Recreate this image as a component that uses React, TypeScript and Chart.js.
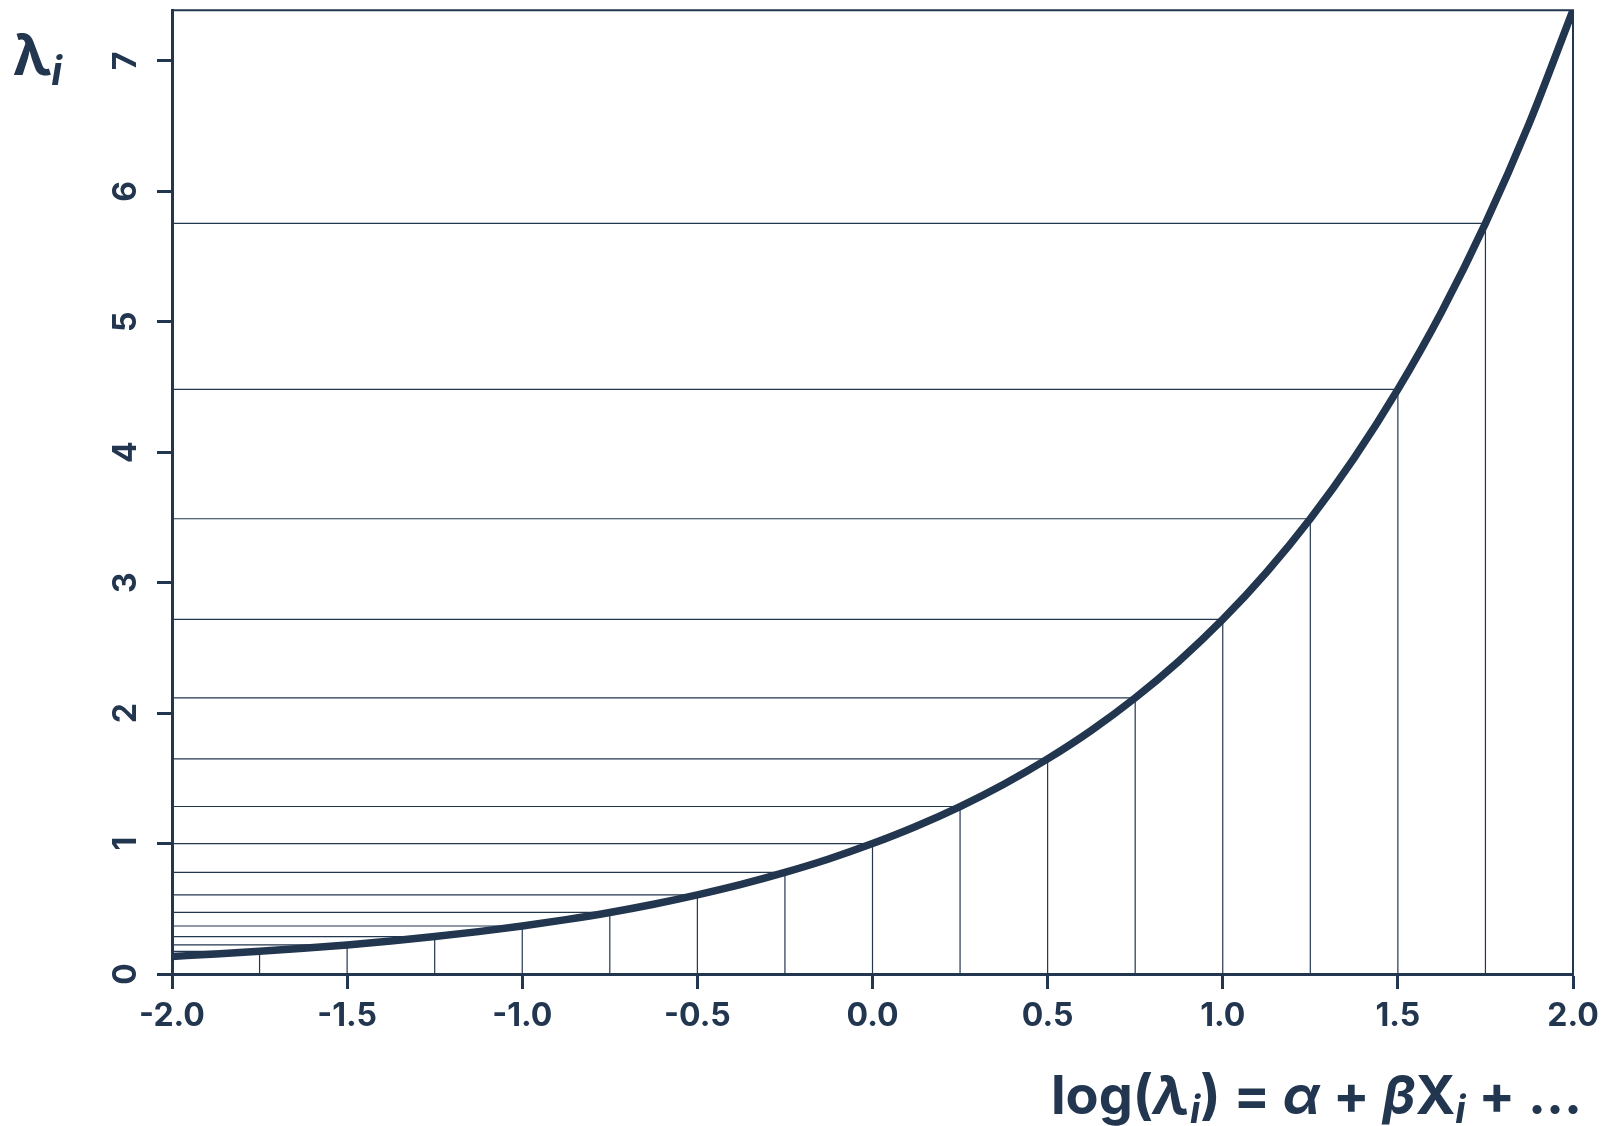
import React, { useEffect, useRef } from "react";
import { Chart, registerables } from "chart.js";

Chart.register(...registerables);

const INK = "#22364f";
const FONT = "Inter, 'DejaVu Sans', sans-serif";

// curve: lambda_i
const curveX = [-2, -1.875, -1.75, -1.625, -1.5, -1.375, -1.25, -1.125, -1, -0.875, -0.75, -0.625, -0.5, -0.375, -0.25, -0.125, 0, 0.125, 0.25, 0.375, 0.5, 0.625, 0.75, 0.875, 1, 1.125, 1.25, 1.375, 1.5, 1.625, 1.75, 1.875, 2];
const curveLambda = [0.135, 0.153, 0.174, 0.197, 0.223, 0.253, 0.287, 0.325, 0.368, 0.417, 0.472, 0.535, 0.607, 0.687, 0.779, 0.882, 1.0, 1.133, 1.284, 1.455, 1.649, 1.868, 2.117, 2.399, 2.718, 3.08, 3.49, 3.955, 4.482, 5.078, 5.755, 6.521, 7.389];

// guide lines (vertical from axis to curve, horizontal from left edge to curve)
const guideX = [-1.75, -1.5, -1.25, -1, -0.75, -0.5, -0.25, 0, 0.25, 0.5, 0.75, 1, 1.25, 1.5, 1.75];
const guideLambda = [0.174, 0.223, 0.287, 0.368, 0.472, 0.607, 0.779, 1.0, 1.284, 1.649, 2.117, 2.718, 3.49, 4.482, 5.755];

const xTicks = [-2, -1.5, -1, -0.5, 0, 0.5, 1, 1.5, 2];
const yTicks = [0, 1, 2, 3, 4, 5, 6, 7];
const xMin = -2;
const xMax = 2;
const yMin = 0;
const yMax = 7.389;

type Seg = { t: string; italic?: boolean; sub?: boolean };
const yTitle: Seg[] = [{ t: "λ" }, { t: "i", italic: true, sub: true }];
const xTitle: Seg[] = [
  { t: "log(" },
  { t: "λ", italic: true },
  { t: "i", italic: true, sub: true },
  { t: ") = " },
  { t: "α", italic: true },
  { t: " + " },
  { t: "β", italic: true },
  { t: "X" },
  { t: "i", italic: true, sub: true },
  { t: " + ..." },
];

function drawRich(ctx: CanvasRenderingContext2D, segs: Seg[], x: number, baseline: number, size: number, subSize: number, subDrop: number, align: "left" | "right") {
  const fontFor = (s: Seg) => `${s.italic ? "italic " : ""}700 ${s.sub ? subSize : size}px ${FONT}`;
  let total = 0;
  for (const s of segs) {
    ctx.font = fontFor(s);
    total += ctx.measureText(s.t).width;
  }
  let cx = align === "right" ? x - total : x;
  ctx.textAlign = "left";
  ctx.textBaseline = "alphabetic";
  for (const s of segs) {
    ctx.font = fontFor(s);
    ctx.fillText(s.t, cx, baseline + (s.sub ? subDrop : 0));
    cx += ctx.measureText(s.t).width;
  }
}

const decorPlugin = {
  id: "decor",
  afterDraw(chart: any) {
    const { ctx, chartArea, scales } = chart;
    ctx.save();
    // top and right frame
    ctx.strokeStyle = INK;
    ctx.lineWidth = 2;
    ctx.beginPath();
    ctx.moveTo(chartArea.left, chartArea.top);
    ctx.lineTo(chartArea.right, chartArea.top);
    ctx.lineTo(chartArea.right, chartArea.bottom);
    ctx.stroke();

    ctx.fillStyle = INK;
    // y tick labels, rotated
    ctx.font = `700 32px ${FONT}`;
    for (const v of yTicks) {
      const py = scales.y.getPixelForValue(v);
      ctx.save();
      ctx.translate(136, py);
      ctx.rotate(-Math.PI / 2);
      ctx.textAlign = "center";
      ctx.textBaseline = "alphabetic";
      ctx.fillText(String(v), 0, 0);
      ctx.restore();
    }
    // x tick labels
    ctx.font = `700 32px ${FONT}`;
    ctx.textAlign = "center";
    ctx.textBaseline = "alphabetic";
    for (const v of xTicks) {
      const px = scales.x.getPixelForValue(v);
      ctx.fillText(v.toFixed(1), px, 1026);
    }
    // titles
    drawRich(ctx, yTitle, 13, 75, 56, 40, 10, "left");
    drawRich(ctx, xTitle, 1582, 1114, 54, 38, 9, "right");
    ctx.restore();
  },
};

export default function App() {
  const ref = useRef<HTMLCanvasElement | null>(null);
  useEffect(() => {
    if (!ref.current) return;
    const guideSets: any[] = [];
    guideX.forEach((gx, i) => {
      const gl = guideLambda[i];
      guideSets.push({
        data: [{ x: gx, y: yMin }, { x: gx, y: gl }],
        borderColor: INK,
        borderWidth: 1.2,
        pointRadius: 0,
        clip: 0,
      });
      guideSets.push({
        data: [{ x: xMin, y: gl }, { x: gx, y: gl }],
        borderColor: INK,
        borderWidth: 1.2,
        pointRadius: 0,
        clip: 0,
      });
    });
    const chart = new Chart(ref.current, {
      type: "line",
      data: {
        datasets: [
          {
            data: curveX.map((x, i) => ({ x, y: curveLambda[i] })),
            borderColor: INK,
            borderWidth: 7.5,
            pointRadius: 0,
            cubicInterpolationMode: "monotone",
            clip: 0,
          } as any,
          ...guideSets,
        ],
      },
      options: {
        animation: false,
        responsive: true,
        maintainAspectRatio: false,
        layout: { padding: { left: 0, top: 9, right: 32, bottom: 0 } },
        plugins: { legend: { display: false }, tooltip: { enabled: false } },
        scales: {
          x: {
            type: "linear",
            min: xMin,
            max: xMax,
            afterBuildTicks: (s: any) => {
              s.ticks = xTicks.map((v) => ({ value: v }));
            },
            afterFit: (s: any) => {
              s.height = 152;
            },
            ticks: { color: "rgba(0,0,0,0)", font: { size: 12 } },
            grid: { drawOnChartArea: false, drawTicks: true, tickLength: 15, tickWidth: 3, tickColor: INK },
            border: { color: INK, width: 3 },
          },
          y: {
            type: "linear",
            min: yMin,
            max: yMax,
            afterBuildTicks: (s: any) => {
              s.ticks = yTicks.map((v) => ({ value: v }));
            },
            afterFit: (s: any) => {
              s.width = 172;
            },
            ticks: { color: "rgba(0,0,0,0)", font: { size: 12 } },
            grid: { drawOnChartArea: false, drawTicks: true, tickLength: 15, tickWidth: 3, tickColor: INK },
            border: { color: INK, width: 3 },
          },
        },
      },
      plugins: [decorPlugin],
    });
    return () => chart.destroy();
  }, []);
  return (
    <div style={{ position: "fixed", left: 0, top: 0, width: 1605, height: 1126, background: "#fff" }}>
      <canvas ref={ref} />
    </div>
  );
}
